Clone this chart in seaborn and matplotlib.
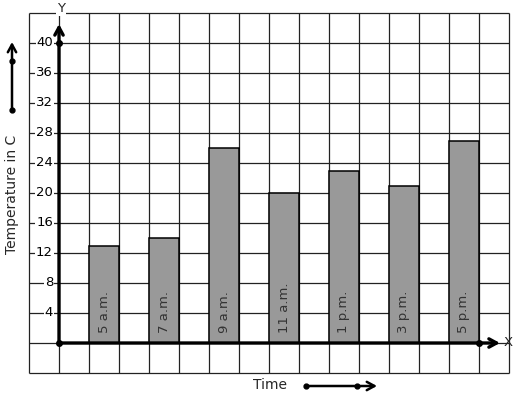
import matplotlib
matplotlib.use("Agg")
import matplotlib.pyplot as plt
import seaborn as sns
import numpy as np

# ---- data ----
times = ["5 a.m.", "7 a.m.", "9 a.m.", "11 a.m.", "1 p.m.", "3 p.m.", "5 p.m."]
temps = [13, 14, 26, 20, 23, 21, 27]
ytick_values = [4, 8, 12, 16, 20, 24, 28, 32, 36, 40]
y_label = "Temperature in C"
x_label = "Time"

sns.set_style("white")
plt.rcParams['font.family'] = ['DejaVu Sans']

W, H = 517, 399
fig = plt.figure(figsize=(W / 100, H / 100), dpi=100)
ax = fig.add_axes([0, 0, 1, 1])

# pixel -> data mapping: x: (px-59)/30 ; y: (343-py)/7.5
def dx(px):
    return (px - 59) / 30.0

def dy(py):
    return (343 - py) / 7.5

# grid
for gx in range(-1, 16):
    ax.plot([gx, gx], [-4, 44], color="#222222", lw=0.9, zorder=1, solid_capstyle="butt")
for gy in range(-4, 45, 4):
    ax.plot([-1, 15], [gy, gy], color="#222222", lw=0.9, zorder=1, solid_capstyle="butt")

# bars
pos = [1.5 + 2 * i for i in range(len(times))]
sns.barplot(x=pos, y=temps, native_scale=True, width=0.5, color="#999999",
            saturation=1, edgecolor="black", linewidth=1.1, ax=ax, zorder=2)

# bar labels
for p, t in zip(pos, times):
    ax.text(p, 1.3, t, rotation=90, ha="center", va="bottom", fontsize=9.5,
            color="#333333", zorder=4)

# axes lines with arrows
arrow_kw = dict(arrowstyle="->,head_length=0.55,head_width=0.3", lw=2.4,
                color="black", shrinkA=0, shrinkB=0)
ax.annotate("", xy=(0, dy(24)), xytext=(0, 0), arrowprops=arrow_kw, zorder=5)
ax.annotate("", xy=(dx(500), 0), xytext=(0, 0), arrowprops=arrow_kw, zorder=5)
ax.plot([0, 0, 14], [0, 40, 0], "o", color="black", ms=4, zorder=6)

# tick labels
for v in ytick_values:
    ax.text(dx(53), v, str(v), ha="right", va="center", fontsize=9.5, color="black",
            bbox=dict(facecolor="white", edgecolor="none", pad=0.5), zorder=4)

ax.text(dx(61), dy(9), "Y", ha="center", va="center", fontsize=9.5,
        bbox=dict(facecolor="white", edgecolor="none", pad=0.5), zorder=4)
ax.text(dx(508), dy(342), "X", ha="center", va="center", fontsize=9.5, zorder=4)

# axis titles
ax.text(dx(12), dy(194), y_label, rotation=90, ha="center", va="center", fontsize=10)
ax.text(dx(270), dy(385), x_label, ha="center", va="center", fontsize=10)

# decorative arrows
small_kw = dict(arrowstyle="->,head_length=0.55,head_width=0.3", lw=1.8,
                color="black", shrinkA=0, shrinkB=0)
ax.annotate("", xy=(dx(12), dy(42)), xytext=(dx(12), dy(110)), arrowprops=small_kw)
ax.plot([dx(12), dx(12)], [dy(110), dy(61)], "o", color="black", ms=3.5)
ax.annotate("", xy=(dx(377), dy(386)), xytext=(dx(306), dy(386)), arrowprops=small_kw)
ax.plot([dx(306), dx(357)], [dy(386), dy(386)], "o", color="black", ms=3.5)

ax.set_xlim(dx(0), dx(W))
ax.set_ylim(dy(H), dy(0))
ax.set_axis_off()

fig.savefig("out.png", dpi=100)
